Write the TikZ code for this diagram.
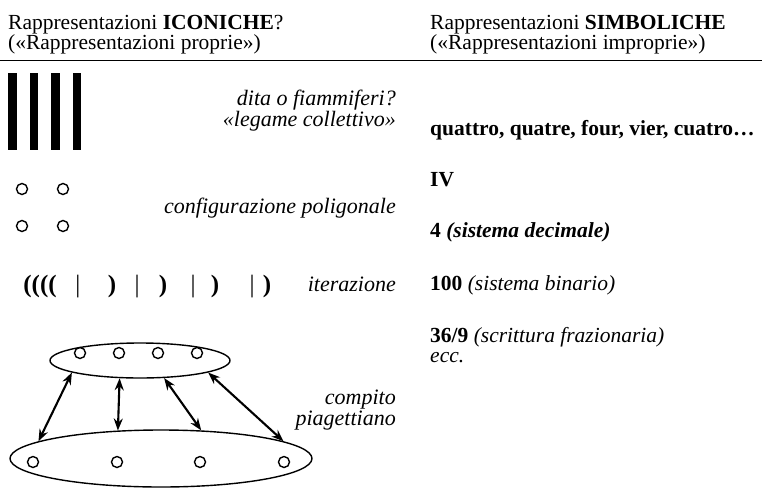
\documentclass[tikz,border=0pt]{standalone}
\usepackage{fontspec}
\setmainfont{Liberation Serif}
\usetikzlibrary{arrows.meta,shapes.geometric}
\begin{document}
\begin{tikzpicture}[x=1pt,y=-1pt,
  txt/.style={inner sep=0pt,anchor=base west,font=\fontsize{21.5}{20}\selectfont},
  lbl/.style={inner sep=0pt,anchor=base east,align=right,font=\fontsize{22}{16}\selectfont\itshape},
  paren/.style={inner sep=0pt,anchor=base,font=\fontsize{25}{25}\selectfont},
  dot/.style={circle,draw,line width=1.4pt,minimum size=11pt,inner sep=0pt},
  ring/.style={ellipse,draw,line width=1.4pt,inner sep=0pt},
  link/.style={line width=2.1pt,{Stealth[length=12pt,width=9pt]}-{Stealth[length=12pt,width=9pt]}}]
\useasboundingbox (0,0) rectangle (762,490);

% intestazioni
\node[txt] (iconl1) at (8,29) {Rappresentazioni \textbf{ICONICHE}?};
\node[txt] (iconl2) at (8,49) {(«Rappresentazioni proprie»)};
\node[txt] (simbl1) at (430,29) {Rappresentazioni \textbf{SIMBOLICHE}};
\node[txt] (simbl2) at (430,49) {(«Rappresentazioni improprie»)};
\draw[line width=0.8pt] (0,60) -- (762,60);

% dita o fiammiferi
\foreach \x in {8,29.5,51,72.5}
  \fill (\x,73) rectangle ++(8.5,77);
\node[lbl] (dita) at (396,126) {dita o fiammiferi?\\«legame collettivo»};

% configurazione
\node[dot] (c1) at (22,189) {};
\node[dot] (c2) at (63,189) {};
\node[dot] (c3) at (22,226) {};
\node[dot] (c4) at (63,226) {};
\node[lbl] (config) at (396,213) {configurazione poligonale};

% iterazione
\node[paren] (open) at (40,292) {\bfseries((((};
\node[paren] (b1) at (78,292) {|};
\node[paren] (k1) at (112,292) {\bfseries)};
\node[paren] (b2) at (137,292) {|};
\node[paren] (k2) at (163,292) {\bfseries)};
\node[paren] (b3) at (193,292) {|};
\node[paren] (k3) at (215,292) {\bfseries)};
\node[paren] (b4) at (252,292) {|};
\node[paren] (k4) at (267,292) {\bfseries)};
\node[lbl] (iter) at (396,291) {iterazione};

% compito piagettiano
\node[ring,minimum width=180pt,minimum height=35pt] (up) at (140,360.5) {};
\node[ring,minimum width=302pt,minimum height=57pt] (low) at (161,458.5) {};
\foreach \x [count=\i] in {80,119,158,197}
  \node[dot] (u\i) at (\x,353) {};
\foreach \x [count=\i] in {33,117,200,284}
  \node[dot] (l\i) at (\x,462) {};
\draw[link] (up.-170) -- (low.172.5);
\draw[link] (up.-139.5) -- (low.147.6);
\draw[link] (up.-36.3) -- (low.35.2);
\draw[link] (up.-10.5) -- (low.8.9);
\node[lbl] (compito) at (396,425) {compito\\piagettiano};

% colonna simbolica
\node[txt] (parole) at (430,135) {\textbf{quattro, quatre, four, vier, cuatro…}};
\node[txt] (romano) at (430,186) {\textbf{IV}};
\node[txt] (decim) at (430,237) {\textbf{4 \textit{(sistema decimale)}}};
\node[txt] (binar) at (430,290) {\textbf{100} \textit{(sistema binario)}};
\node[txt] (frazi) at (430,342) {\textbf{36/9} \textit{(scrittura frazionaria)}};
\node[txt] (ecc) at (430,362) {\textit{ecc.}};
\end{tikzpicture}
\end{document}
